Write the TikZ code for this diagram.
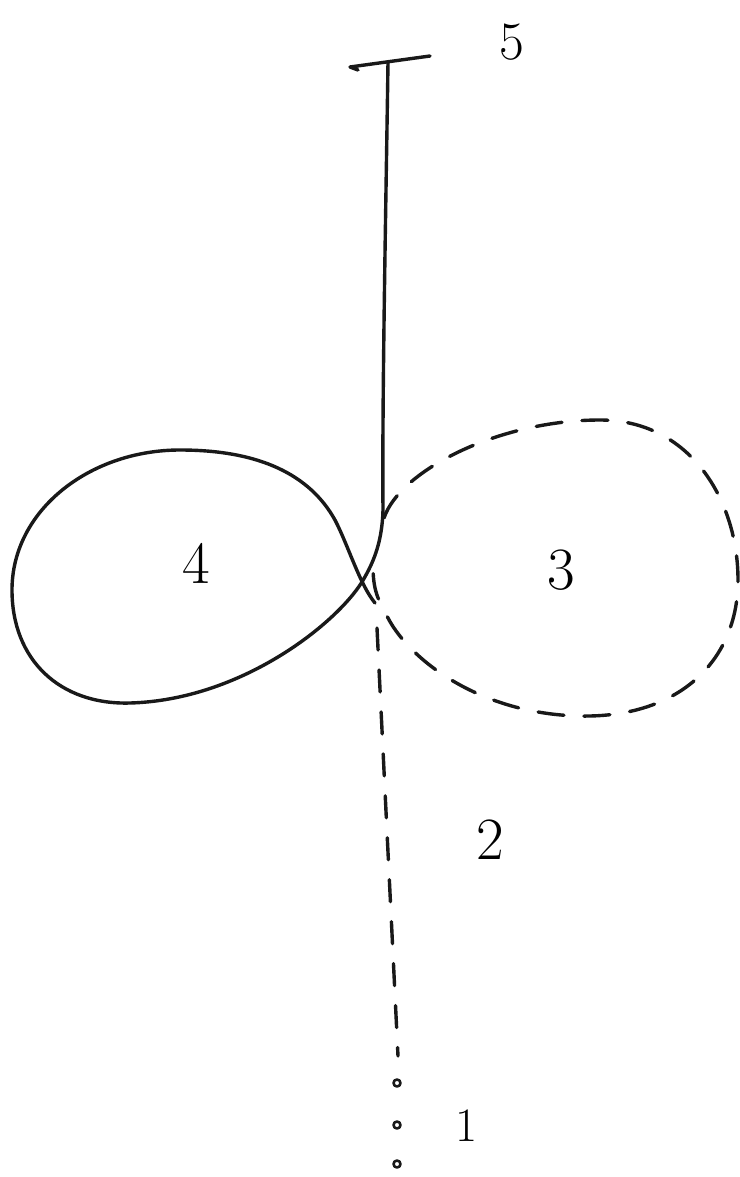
\documentclass[tikz,border=0pt]{standalone}
\begin{document}
\begin{tikzpicture}[x=0.5pt,y=-0.5pt,
  ink/.style={line width=1.7pt,line cap=round,line join=round,black!90},
  dashink/.style={ink,dash pattern=on 13pt off 10pt},
  dashline/.style={ink,dash pattern=on 11pt off 10pt},
  lbl/.style={font=\fontsize{30}{30}\selectfont,inner sep=0pt},
  dotmark/.style={ink,line width=1.3pt}]
\useasboundingbox[fill=white] (0,0) rectangle (739,1177);
% top bar
\draw[ink] (430,56) -- (350,67) -- (358,70);
% stem and loop 4
\draw[ink] (388,62) .. controls (386,200) and (382,400) .. (383,510)
  .. controls (382,545) and (372,565) .. (362,582)
  .. controls (335,625) and (240,700) .. (130,703)
  .. controls (60,705) and (12,660) .. (12,590)
  .. controls (12,510) and (90,450) .. (180,450)
  .. controls (260,450) and (310,475) .. (335,520)
  .. controls (348,545) and (360,585) .. (375,603);
% dashed loop 3
\draw[dashink] (384,518) .. controls (400,470) and (500,420) .. (600,420)
  .. controls (690,420) and (738,500) .. (738,580)
  .. controls (738,660) and (680,718) .. (580,716)
  .. controls (480,714) and (410,660) .. (388,618)
  .. controls (378,600) and (373,590) .. (373,566);
% dashed line 2
\draw[dashline] (377,628) -- (398,1056);
% dots
\foreach \yy in {1083,1125,1164} \draw[dotmark] (397,\yy) circle (3.5);
% labels
\node[lbl,font=\fontsize{27}{27}\selectfont] (l5) at (512,42) {5};
\node[lbl] (l4) at (196,563) {4};
\node[lbl] (l3) at (561,570) {3};
\node[lbl] (l2) at (490,840) {2};
\node[lbl,font=\fontsize{24}{24}\selectfont] (l1) at (467,1126) {1};
\end{tikzpicture}
\end{document}
